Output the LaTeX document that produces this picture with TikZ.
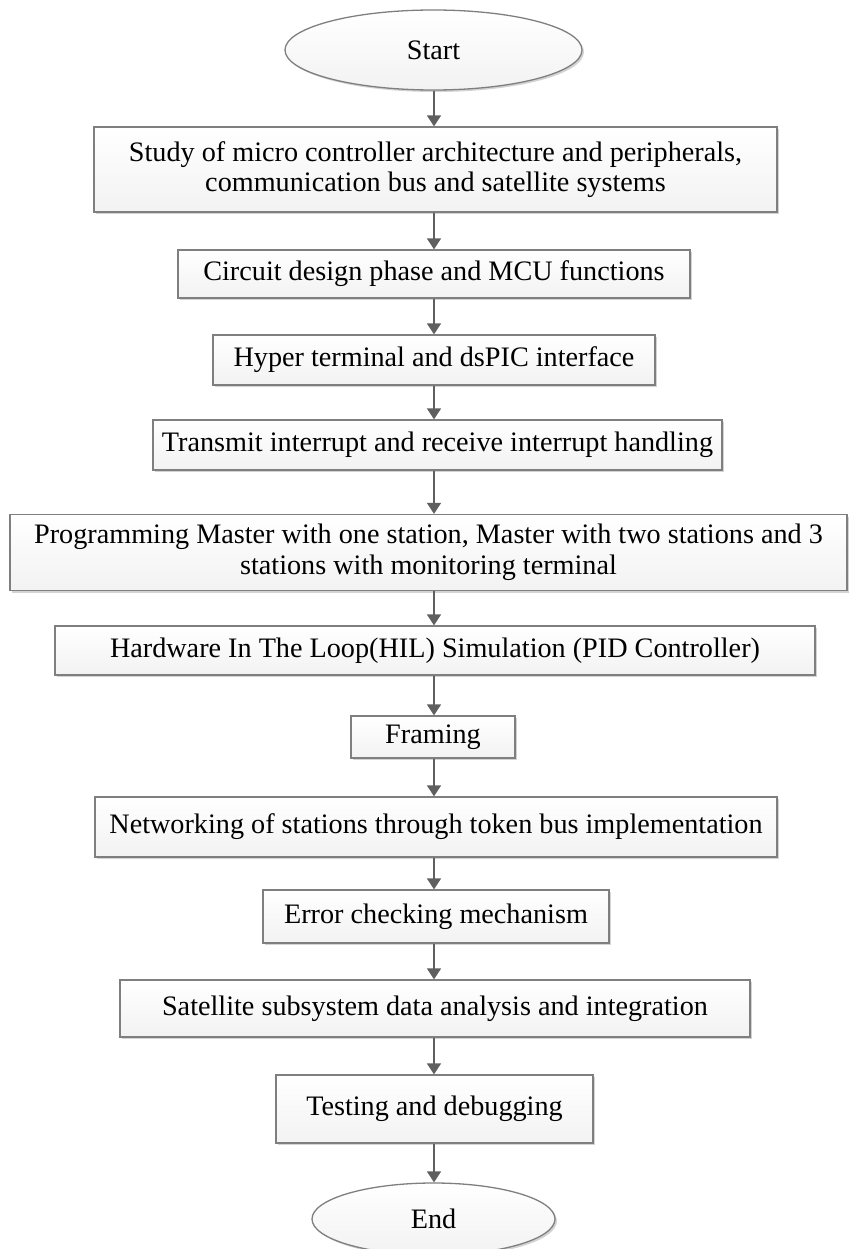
\documentclass[tikz,border=0pt]{standalone}
\usepackage{fontspec}
\setmainfont{Liberation Serif}
\usetikzlibrary{arrows.meta,shapes.geometric,shadows}
\definecolor{edgegray}{HTML}{7F7F7F}
\definecolor{arrowgray}{HTML}{5F5F5F}
\tikzset{
  stepbox/.style={draw=edgegray, line width=1.3pt, rectangle, align=center,
    top color=white, bottom color=black!5, inner sep=0pt,
    drop shadow={shadow xshift=2pt, shadow yshift=-2pt, opacity=0.35, fill=black!50},
    font=\fontsize{28.2}{30.5}\selectfont},
  termnode/.style={draw=edgegray, line width=1.3pt, ellipse, inner sep=0pt,
    top color=white, bottom color=black!5,
    drop shadow={shadow xshift=2pt, shadow yshift=-2pt, opacity=0.35, fill=black!50},
    font=\fontsize{28.2}{30.5}\selectfont},
  flow/.style={draw=arrowgray, line width=1.5pt, -{Triangle[length=11pt,width=14pt]}}
}
\begin{document}
\begin{tikzpicture}[x=1pt,y=-1pt]
\useasboundingbox (0,0) rectangle (850,1249);
\node[termnode, minimum width=297, minimum height=80] (start) at (433.5,50) {Start};
\node[stepbox, minimum width=683, minimum height=85] (b1) at (435.5,169.5)
  {Study of micro controller architecture and peripherals,\\communication bus and satellite systems};
\node[stepbox, minimum width=512, minimum height=48] (b2) at (434,274) {Circuit design phase and MCU functions};
\node[stepbox, minimum width=442, minimum height=50] (b3) at (434,360) {Hyper terminal and dsPIC interface};
\node[stepbox, minimum width=569, minimum height=50] (b4) at (437.5,445) {Transmit interrupt and receive interrupt handling};
\node[stepbox, minimum width=837, minimum height=76] (b5) at (428.5,552.5)
  {Programming Master with one station, Master with two stations and 3\\stations with monitoring terminal};
\node[stepbox, minimum width=760, minimum height=49] (b6) at (435,650.5) {Hardware In The Loop(HIL) Simulation (PID Controller)};
\node[stepbox, minimum width=164, minimum height=42] (b7) at (433,737) {Framing};
\node[stepbox, minimum width=682, minimum height=60] (b8) at (436,827) {Networking of stations through token bus implementation};
\node[stepbox, minimum width=346, minimum height=53] (b9) at (436,916.5) {Error checking mechanism};
\node[stepbox, minimum width=630, minimum height=57] (b10) at (435,1008.5) {Satellite subsystem data analysis and integration};
\node[stepbox, minimum width=317, minimum height=68] (b11) at (434.5,1109) {Testing and debugging};
\node[termnode, minimum width=243, minimum height=72] (end) at (433.5,1219) {End};
\draw[flow] (start.south -| 434,0) -- (b1.north -| 434,0);
\draw[flow] (b1.south -| 434,0) -- (b2.north -| 434,0);
\draw[flow] (b2.south -| 434,0) -- (b3.north -| 434,0);
\draw[flow] (b3.south -| 434,0) -- (b4.north -| 434,0);
\draw[flow] (b4.south -| 434,0) -- (b5.north -| 434,0);
\draw[flow] (b5.south -| 434,0) -- (b6.north -| 434,0);
\draw[flow] (b6.south -| 434,0) -- (b7.north -| 434,0);
\draw[flow] (b7.south -| 434,0) -- (b8.north -| 434,0);
\draw[flow] (b8.south -| 434,0) -- (b9.north -| 434,0);
\draw[flow] (b9.south -| 434,0) -- (b10.north -| 434,0);
\draw[flow] (b10.south -| 434,0) -- (b11.north -| 434,0);
\draw[flow] (b11.south -| 434,0) -- (end.north -| 434,0);
\end{tikzpicture}
\end{document}
